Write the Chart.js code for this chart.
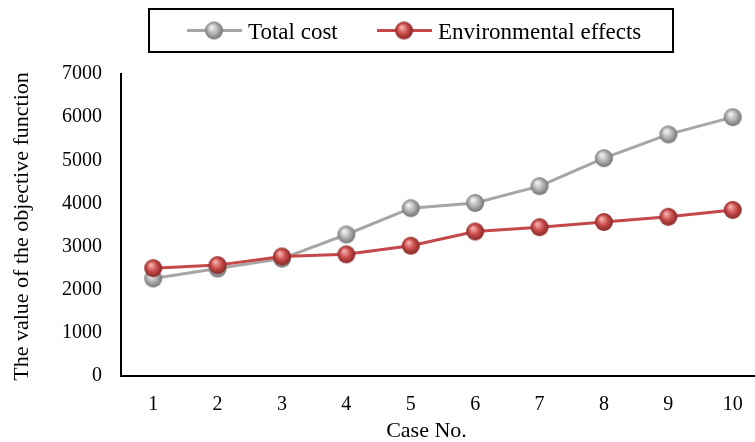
<!DOCTYPE html>
<html>
<head>
<meta charset="utf-8">
<script src="https://cdn.jsdelivr.net/npm/chart.js@4/dist/chart.umd.min.js"></script>
<style>
  html, body { margin: 0; padding: 0; background: #fff; overflow: hidden; }
  #wrap { width: 755px; height: 442px; }
</style>
</head>
<body>
<div id="wrap"><canvas id="c" width="755" height="442"></canvas></div>
<script>
// Case numbers on the horizontal axis
const cases = [1, 2, 3, 4, 5, 6, 7, 8, 9, 10];
// Objective function values per case
const totalCost = [2260, 2490, 2720, 3280, 3890, 4010, 4400, 5050, 5600, 6000];
const environmentalEffects = [2500, 2570, 2770, 2820, 3020, 3350, 3450, 3570, 3690, 3850];
// Vertical axis ticks
const yTicks = [0, 1000, 2000, 3000, 4000, 5000, 6000, 7000];

const seriesNames = ['Total cost', 'Environmental effects'];
const FONT = '"Liberation Serif", "Times New Roman", serif';

// Shaded sphere used as a point marker
function sphere(light, base, dark) {
  const s = 20, c = document.createElement('canvas');
  c.width = s; c.height = s;
  const g = c.getContext('2d');
  const grad = g.createRadialGradient(7.6, 6.6, 0.6, 10, 10, 9.4);
  grad.addColorStop(0, light);
  grad.addColorStop(0.5, base);
  grad.addColorStop(1, dark);
  g.fillStyle = grad;
  g.beginPath();
  g.arc(10, 10, 9, 0, Math.PI * 2);
  g.fill();
  return c;
}
const graySphere = sphere('#f4f4f4', '#b4b4b4', '#6e6e6e');
const redSphere = sphere('#f6b4b2', '#cc4e4c', '#7e2422');

const grayLine = '#a6a6a6';
const redLine = '#c4474a';

const toPoints = vals => vals.map((v, i) => ({ x: cases[i], y: v }));

// Boxed legend, axis titles
const decorations = {
  id: 'decorations',
  afterDraw(chart) {
    const ctx = chart.ctx;
    ctx.save();
    // legend frame
    ctx.strokeStyle = '#000';
    ctx.lineWidth = 2;
    ctx.strokeRect(149, 9, 524, 43);
    const items = [
      { x: 187, color: grayLine, marker: graySphere, text: seriesNames[0] },
      { x: 377, color: redLine, marker: redSphere, text: seriesNames[1] }
    ];
    ctx.font = '23px ' + FONT;
    ctx.fillStyle = '#000';
    ctx.textBaseline = 'alphabetic';
    ctx.textAlign = 'left';
    items.forEach(it => {
      ctx.strokeStyle = it.color;
      ctx.lineWidth = 3;
      ctx.beginPath();
      ctx.moveTo(it.x, 30.5);
      ctx.lineTo(it.x + 55, 30.5);
      ctx.stroke();
      ctx.drawImage(it.marker, it.x + 27 - 10, 30.5 - 10);
      ctx.fillText(it.text, it.x + 61, 39);
    });
    // axis titles
    ctx.font = '22px ' + FONT;
    ctx.textAlign = 'center';
    ctx.fillText('Case No.', 426.5, 437);
    ctx.translate(28, 226.5);
    ctx.rotate(-Math.PI / 2);
    ctx.fillText('The value of the objective function', 0, 0);
    ctx.restore();
  }
};

const noPad = s => { s.paddingLeft = 0; s.paddingRight = 0; s.paddingTop = 0; s.paddingBottom = 0; };

new Chart(document.getElementById('c'), {
  type: 'line',
  data: {
    datasets: [
      {
        label: seriesNames[0],
        data: toPoints(totalCost),
        borderColor: grayLine,
        borderWidth: 3,
        pointStyle: graySphere,
        order: 1
      },
      {
        label: seriesNames[1],
        data: toPoints(environmentalEffects),
        borderColor: redLine,
        borderWidth: 3,
        pointStyle: redSphere,
        order: 0
      }
    ]
  },
  options: {
    responsive: false,
    animation: false,
    layout: { autoPadding: false, padding: { top: 74, right: 0, bottom: 0, left: 0 } },
    plugins: { legend: { display: false }, tooltip: { enabled: false } },
    scales: {
      x: {
        type: 'linear',
        min: 0.5,
        max: 10.346,
        afterBuildTicks: s => { s.ticks = cases.map(v => ({ value: v })); },
        afterFit: s => { s.height = 66; noPad(s); },
        grid: { display: false, drawTicks: false },
        border: { display: true, color: '#000', width: 2 },
        ticks: {
          color: '#000', font: { family: FONT, size: 20 }, padding: 17,
          maxRotation: 0, autoSkip: false, callback: v => String(v)
        }
      },
      y: {
        min: 0,
        max: 7000,
        afterBuildTicks: s => { s.ticks = yTicks.map(v => ({ value: v })); },
        afterFit: s => { s.width = 121; noPad(s); },
        grid: { display: false, drawTicks: false },
        border: { display: true, color: '#000', width: 2 },
        ticks: { color: '#000', font: { family: FONT, size: 20 }, padding: 19, callback: v => String(v) }
      }
    }
  },
  plugins: [decorations]
});
</script>
</body>
</html>
